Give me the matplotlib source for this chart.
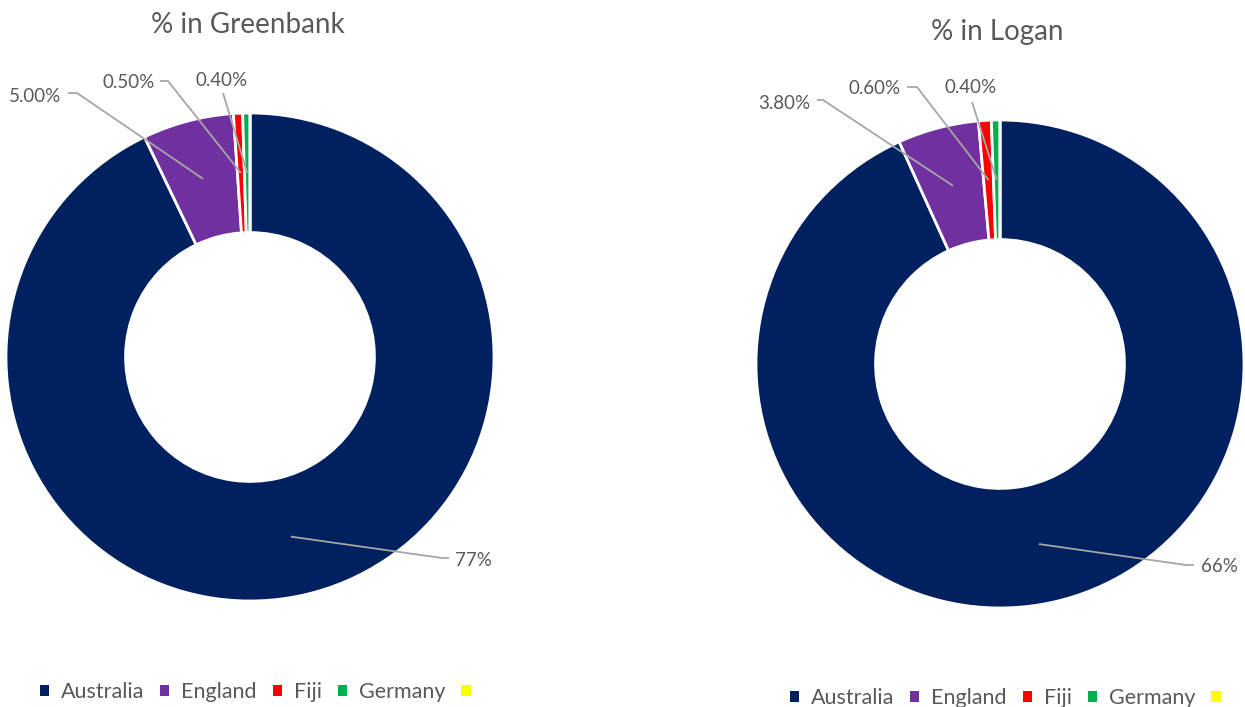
import matplotlib.pyplot as plt
from matplotlib.patches import Patch
import numpy as np

# data
countries = ["Australia", "England", "Fiji", "Germany", ""]
greenbank = [77, 5.0, 0.5, 0.4, 0.0]
logan = [66, 3.8, 0.6, 0.4, 0.0]
greenbank_labels = ["77%", "5.00%", "0.50%", "0.40%"]
logan_labels = ["66%", "3.80%", "0.60%", "0.40%"]
colors = ["#002060", "#7030A0", "#FF0000", "#00B050", "#FFFF00"]

W, H = 1245, 707
TXT = "#595959"
LINE = "#A6A6A6"
plt.rcParams['font.family'] = ['Lato', 'DejaVu Sans']

fig = plt.figure(figsize=(W / 100, H / 100), dpi=100)


def donut(cx, cy, R, values, labels, title, title_pos, label_layout, legend_pos):
    # axes placed in pixel coords so that data radius 1 == R px
    ax = fig.add_axes([(cx - R) / W, (H - cy - R) / H, 2 * R / W, 2 * R / H])
    wedges, _ = ax.pie(values, colors=colors, startangle=90, counterclock=False,
                       radius=1, wedgeprops=dict(width=0.49, edgecolor="white", linewidth=2))
    ax.set_xlim(-1, 1)
    ax.set_ylim(-1, 1)
    ax.set_aspect("equal")
    ax.axis("off")

    def px(x, y):
        return (x - cx) / R, (cy - y) / R

    for w, lab, lay in zip(wedges, labels, label_layout):
        mid = np.deg2rad((w.theta1 + w.theta2) / 2)
        r = 0.755
        ax0, ay0 = r * np.cos(mid), r * np.sin(mid)
        pts = [(ax0, ay0)] + [px(*p) for p in lay["path"]]
        xs, ys = zip(*pts)
        ax.plot(xs, ys, color=LINE, lw=1.3, clip_on=False, solid_capstyle="butt")
        tx, ty = px(*lay["text"])
        ax.text(tx, ty, lab, ha=lay["ha"], va="center", fontsize=13.5, color=TXT, clip_on=False)

    fig.text(title_pos[0] / W, 1 - title_pos[1] / H, title, ha="center", va="center",
             fontsize=20, color=TXT)

    handles = [Patch(facecolor=c, edgecolor="none") for c in colors]
    fig.legend(handles, countries, loc="center left",
               bbox_to_anchor=(legend_pos[0] / W, 1 - legend_pos[1] / H),
               ncol=5, frameon=False, fontsize=15.5, labelcolor=TXT,
               handlelength=0.42, handleheight=0.42, handletextpad=0.55,
               columnspacing=0.75, borderaxespad=0, borderpad=0)


green_layout = [
    dict(path=[(442, 558), (449, 558)], text=(455, 560), ha="left"),
    dict(path=[(77, 93), (68, 93)], text=(61, 96), ha="right"),
    dict(path=[(168, 81), (160, 81)], text=(155, 82), ha="right"),
    dict(path=[(223, 93)], text=(222, 80), ha="center"),
]
logan_layout = [
    dict(path=[(1186, 565), (1194, 565)], text=(1201, 567), ha="left"),
    dict(path=[(823, 100), (817, 100)], text=(810, 103), ha="right"),
    dict(path=[(917, 87), (907, 87)], text=(901, 88), ha="right"),
    dict(path=[(972, 102)], text=(971, 87), ha="center"),
]

donut(250, 357, 244, greenbank, greenbank_labels, "% in Greenbank", (248, 25), green_layout, (40, 692))
donut(1000, 364, 244, logan, logan_labels, "% in Logan", (997, 32), logan_layout, (790, 698))

fig.savefig("out.png", dpi=100, facecolor="white")
